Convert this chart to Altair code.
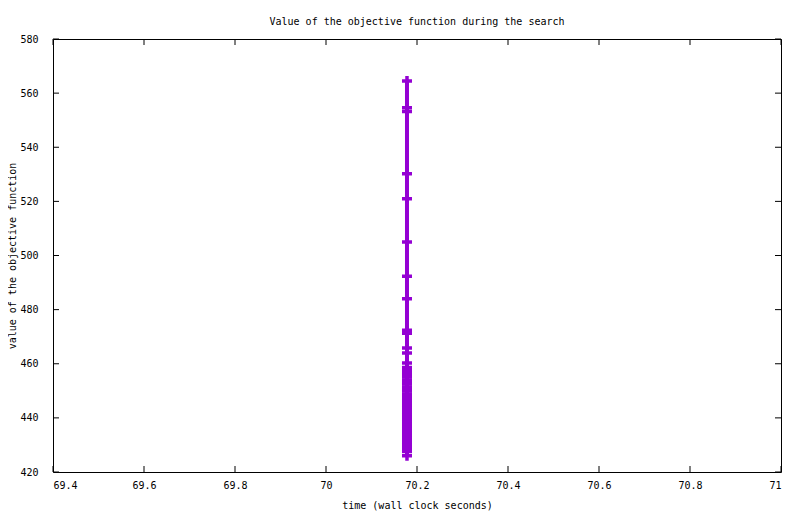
import altair as alt
import pandas as pd

# ---- data ----
run_time = 70.178  # all evaluations happen at the same wall-clock time
objective_values = [
    564.5, 554.6, 553.2, 530.2, 521.0, 505.0, 492.3, 484.0, 472.4, 471.3,
    465.8, 464.0, 460.3, 458.6, 457.5, 456.6, 455.9, 455.1, 454.0, 453.2,
    452.5, 451.4, 450.6, 449.9, 448.8, 448.1, 447.2, 446.3, 445.5, 444.6,
    443.8, 442.9, 442.0, 441.2, 440.3, 439.5, 438.6, 437.7, 436.9, 436.1,
    435.2, 434.4, 433.5, 432.6, 431.8, 430.9, 430.1, 429.2, 428.4, 427.6,
    426.0,
]
x_ticks = [69.4, 69.6, 69.8, 70.0, 70.2, 70.4, 70.6, 70.8, 71.0]
y_ticks = [420, 440, 460, 480, 500, 520, 540, 560, 580]

title_text = "Value of the objective function during the search"
x_title = "time (wall clock seconds)"
y_title = "value of the objective function"

W, H = 728, 433
FONT = "DejaVu Sans Mono"
COLOR = "#9400D3"
TICK = 6

df = pd.DataFrame({
    "step": list(range(len(objective_values))),
    "time": [run_time] * len(objective_values),
    "value": objective_values,
})
xt = pd.DataFrame({"time": x_ticks})
yt = pd.DataFrame({"value": y_ticks})

xscale = alt.Scale(domain=[69.4, 71.0], nice=False, zero=False)
yscale = alt.Scale(domain=[420, 580], nice=False, zero=False)

xaxis = alt.Axis(values=x_ticks, format=".1~f", title=x_title, grid=False, domain=False,
                 ticks=False, tickSize=0, labelPadding=8,
                 titleX=W / 2, titleY=33, titleBaseline="middle", titleAlign="center",
                 labelFont=FONT, labelFontSize=10, labelColor="black",
                 titleFont=FONT, titleFontSize=10, titleFontWeight="normal", titleColor="black")
yaxis = alt.Axis(values=y_ticks, format="d", title=y_title, grid=False, domain=False,
                 ticks=False, tickSize=0, labelPadding=15,
                 titleX=-41, titleY=H / 2, titleAngle=270, titleBaseline="middle",
                 titleAlign="center",
                 labelFont=FONT, labelFontSize=10, labelColor="black",
                 titleFont=FONT, titleFontSize=10, titleFontWeight="normal", titleColor="black")

base = alt.Chart(df)
line = base.mark_line(color=COLOR, strokeWidth=4, strokeCap="butt").encode(
    x=alt.X("time:Q", scale=xscale, axis=xaxis),
    y=alt.Y("value:Q", scale=yscale, axis=yaxis),
    order="step:Q",
)
points = base.mark_point(shape="M-1,0H1M0,-1V1", size=100, filled=False,
                         stroke=COLOR, strokeWidth=3.5, opacity=1).encode(
    x=alt.X("time:Q"),
    y=alt.Y("value:Q"),
)

xt_bottom = alt.Chart(xt).mark_rule(color="black", strokeWidth=1).encode(
    x=alt.X("time:Q"), y=alt.value(H), y2=alt.value(H - TICK))
xt_top = alt.Chart(xt).mark_rule(color="black", strokeWidth=1).encode(
    x=alt.X("time:Q"), y=alt.value(0), y2=alt.value(TICK))
yt_left = alt.Chart(yt).mark_rule(color="black", strokeWidth=1).encode(
    y=alt.Y("value:Q"), x=alt.value(0), x2=alt.value(TICK))
yt_right = alt.Chart(yt).mark_rule(color="black", strokeWidth=1).encode(
    y=alt.Y("value:Q"), x=alt.value(W), x2=alt.value(W - TICK))

chart = alt.layer(line, points, xt_bottom, xt_top, yt_left, yt_right).properties(
    width=W, height=H,
    title=alt.TitleParams(title_text, font=FONT, fontSize=10, fontWeight="normal",
                          color="black", anchor="middle", offset=7),
    autosize=alt.AutoSizeParams(type="none"),
    padding={"left": 45, "top": 31, "right": 10, "bottom": 40},
).configure(background="white").configure_view(stroke="black", strokeWidth=1)

chart.save("out.html", embed_options={"renderer": "svg", "actions": False})
